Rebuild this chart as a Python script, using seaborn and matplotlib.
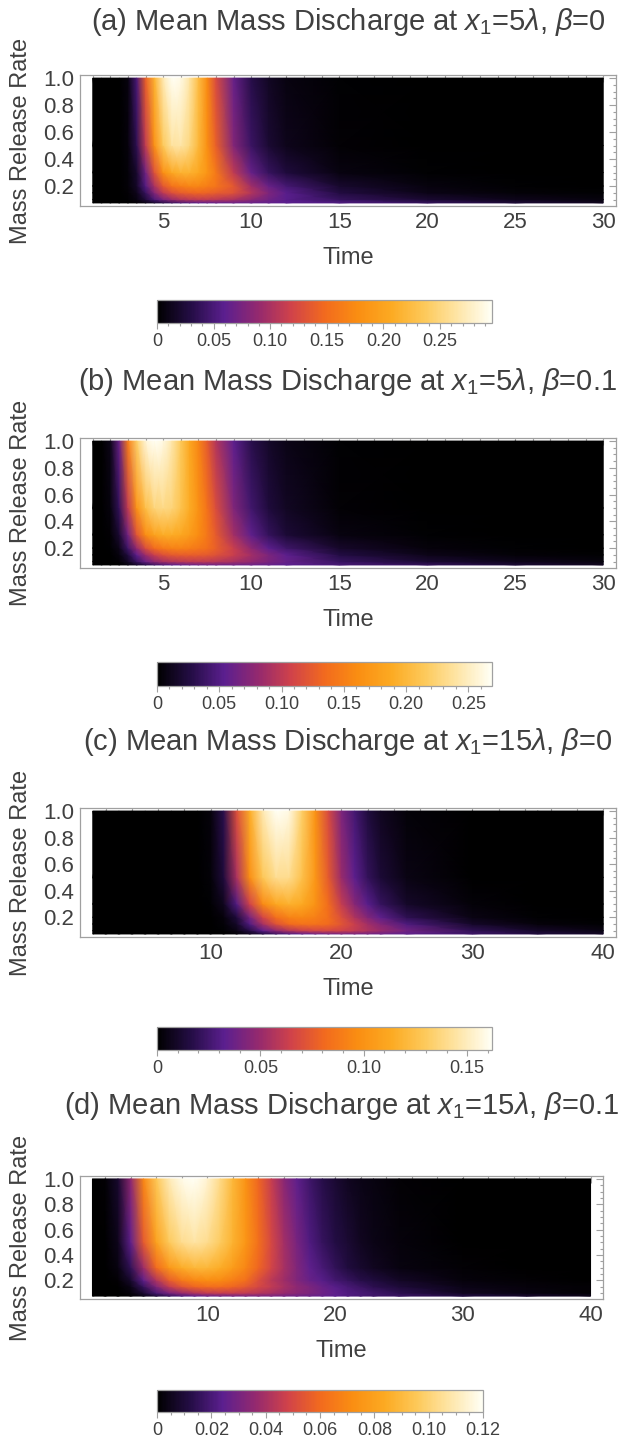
import matplotlib
matplotlib.use("Agg")
import numpy as np
import matplotlib.pyplot as plt
import seaborn as sns
from matplotlib.ticker import MultipleLocator, FuncFormatter

sns.set_style("white")
plt.rcParams["font.family"] = ["Liberation Sans", "DejaVu Sans"]
plt.rcParams["mathtext.fontset"] = "custom"
plt.rcParams["mathtext.rm"] = "Liberation Sans"
plt.rcParams["mathtext.it"] = "Liberation Sans:italic"

# mass release rate rows (bottom -> top), shared by all panels
rates = [0.075, 0.1, 0.15, 0.2, 0.3, 0.5, 1.0]

# time columns
times_ab = [1, 1.5, 2, 2.5, 3, 3.5, 4, 4.5, 5, 5.5, 6, 6.5, 7, 7.5, 8, 9, 10, 11, 12, 15, 20, 25, 30]
times_cd = [1, 2, 3, 4, 5, 6, 7, 8, 9, 10, 11, 12, 13, 14, 15, 16, 17, 18, 19, 20, 21, 22, 23, 25, 30, 35, 40]

# (a) x1 = 5 lambda, beta = 0
disch_a = [
    [0, 0, 0, 0, 0.001, 0.003, 0.008, 0.018, 0.03, 0.04, 0.048, 0.054, 0.058, 0.061, 0.063, 0.065, 0.065, 0.063, 0.06, 0.055, 0.04, 0.025, 0.014],
    [0, 0, 0, 0, 0.002, 0.008, 0.025, 0.05, 0.075, 0.092, 0.102, 0.108, 0.11, 0.11, 0.108, 0.1, 0.085, 0.07, 0.058, 0.04, 0.022, 0.012, 0.006],
    [0, 0, 0, 0, 0.003, 0.012, 0.04, 0.08, 0.11, 0.128, 0.138, 0.143, 0.145, 0.143, 0.138, 0.13, 0.105, 0.078, 0.058, 0.028, 0.01, 0.004, 0.002],
    [0, 0, 0, 0, 0.004, 0.018, 0.055, 0.1, 0.135, 0.155, 0.165, 0.17, 0.17, 0.165, 0.158, 0.135, 0.095, 0.066, 0.048, 0.02, 0.006, 0.002, 0.001],
    [0, 0, 0, 0, 0.004, 0.02, 0.07, 0.13, 0.18, 0.205, 0.215, 0.215, 0.205, 0.185, 0.16, 0.11, 0.065, 0.04, 0.026, 0.008, 0.002, 0.001, 0],
    [0, 0, 0, 0, 0.005, 0.035, 0.11, 0.18, 0.235, 0.262, 0.265, 0.25, 0.22, 0.18, 0.14, 0.08, 0.042, 0.022, 0.012, 0.003, 0, 0, 0],
    [0, 0, 0, 0, 0.006, 0.05, 0.14, 0.215, 0.27, 0.296, 0.29, 0.265, 0.225, 0.175, 0.125, 0.065, 0.032, 0.016, 0.008, 0.002, 0, 0, 0],
]

# (b) x1 = 5 lambda, beta = 0.1
disch_b = [
    [0, 0, 0, 0.001, 0.006, 0.015, 0.027, 0.038, 0.046, 0.052, 0.056, 0.059, 0.061, 0.062, 0.063, 0.063, 0.061, 0.058, 0.054, 0.045, 0.035, 0.022, 0.013],
    [0, 0, 0, 0.003, 0.014, 0.036, 0.06, 0.078, 0.089, 0.095, 0.098, 0.1, 0.1, 0.099, 0.097, 0.09, 0.08, 0.069, 0.059, 0.037, 0.02, 0.011, 0.006],
    [0, 0, 0.001, 0.006, 0.025, 0.055, 0.085, 0.105, 0.117, 0.123, 0.126, 0.127, 0.126, 0.123, 0.118, 0.105, 0.088, 0.07, 0.055, 0.027, 0.01, 0.004, 0.002],
    [0, 0, 0.002, 0.01, 0.04, 0.08, 0.115, 0.135, 0.147, 0.152, 0.153, 0.15, 0.145, 0.138, 0.128, 0.105, 0.078, 0.055, 0.04, 0.017, 0.005, 0.002, 0.001],
    [0, 0, 0.003, 0.02, 0.065, 0.12, 0.16, 0.18, 0.19, 0.19, 0.185, 0.175, 0.16, 0.145, 0.125, 0.088, 0.056, 0.035, 0.022, 0.007, 0.002, 0, 0],
    [0, 0, 0.006, 0.035, 0.1, 0.165, 0.205, 0.225, 0.23, 0.225, 0.21, 0.19, 0.165, 0.14, 0.115, 0.072, 0.042, 0.024, 0.014, 0.003, 0, 0, 0],
    [0, 0.001, 0.01, 0.06, 0.15, 0.22, 0.258, 0.269, 0.262, 0.242, 0.215, 0.185, 0.155, 0.125, 0.095, 0.055, 0.03, 0.016, 0.009, 0.002, 0, 0, 0],
]

# (c) x1 = 15 lambda, beta = 0
disch_c = [
    [0, 0, 0, 0, 0, 0, 0, 0, 0, 0, 0, 0.002, 0.007, 0.015, 0.023, 0.029, 0.034, 0.037, 0.039, 0.04, 0.04, 0.039, 0.037, 0.034, 0.024, 0.015, 0.009],
    [0, 0, 0, 0, 0, 0, 0, 0, 0, 0, 0.001, 0.005, 0.017, 0.033, 0.047, 0.057, 0.063, 0.066, 0.067, 0.065, 0.061, 0.056, 0.05, 0.039, 0.02, 0.01, 0.005],
    [0, 0, 0, 0, 0, 0, 0, 0, 0, 0, 0.002, 0.01, 0.03, 0.054, 0.071, 0.081, 0.085, 0.085, 0.081, 0.073, 0.063, 0.053, 0.044, 0.029, 0.01, 0.003, 0.001],
    [0, 0, 0, 0, 0, 0, 0, 0, 0, 0, 0.003, 0.014, 0.04, 0.066, 0.083, 0.092, 0.094, 0.091, 0.083, 0.07, 0.056, 0.044, 0.034, 0.019, 0.005, 0.001, 0],
    [0, 0, 0, 0, 0, 0, 0, 0, 0, 0.001, 0.007, 0.03, 0.065, 0.095, 0.112, 0.117, 0.113, 0.1, 0.082, 0.062, 0.045, 0.032, 0.022, 0.01, 0.002, 0, 0],
    [0, 0, 0, 0, 0, 0, 0, 0, 0, 0.002, 0.014, 0.055, 0.098, 0.128, 0.141, 0.14, 0.125, 0.102, 0.075, 0.05, 0.033, 0.021, 0.013, 0.005, 0.0005, 0, 0],
    [0, 0, 0, 0, 0, 0, 0, 0, 0, 0.003, 0.018, 0.07, 0.115, 0.148, 0.162, 0.158, 0.132, 0.1, 0.068, 0.042, 0.026, 0.015, 0.008, 0.002, 0, 0, 0],
]

# (d) x1 = 15 lambda, beta = 0.1
disch_d = [
    [0, 0, 0, 0.001, 0.004, 0.01, 0.016, 0.021, 0.025, 0.027, 0.028, 0.029, 0.03, 0.03, 0.03, 0.029, 0.028, 0.027, 0.026, 0.024, 0.022, 0.02, 0.018, 0.017, 0.012, 0.008, 0.005],
    [0, 0, 0, 0.002, 0.009, 0.02, 0.03, 0.037, 0.042, 0.045, 0.046, 0.046, 0.045, 0.043, 0.04, 0.037, 0.034, 0.031, 0.028, 0.025, 0.022, 0.02, 0.018, 0.014, 0.006, 0.003, 0.001],
    [0, 0, 0, 0.004, 0.016, 0.032, 0.045, 0.054, 0.059, 0.061, 0.061, 0.059, 0.055, 0.05, 0.045, 0.04, 0.035, 0.031, 0.027, 0.023, 0.02, 0.017, 0.014, 0.01, 0.004, 0.002, 0.001],
    [0, 0, 0.001, 0.008, 0.025, 0.042, 0.056, 0.065, 0.07, 0.072, 0.071, 0.067, 0.062, 0.052, 0.044, 0.038, 0.032, 0.027, 0.023, 0.019, 0.016, 0.013, 0.011, 0.007, 0.002, 0.001, 0],
    [0, 0, 0.003, 0.015, 0.038, 0.06, 0.076, 0.085, 0.089, 0.089, 0.085, 0.078, 0.069, 0.059, 0.049, 0.04, 0.032, 0.025, 0.02, 0.015, 0.011, 0.008, 0.006, 0.003, 0.001, 0, 0],
    [0, 0, 0.005, 0.025, 0.055, 0.08, 0.096, 0.104, 0.107, 0.104, 0.097, 0.087, 0.075, 0.062, 0.05, 0.039, 0.03, 0.022, 0.016, 0.012, 0.009, 0.006, 0.004, 0.002, 0, 0, 0],
    [0, 0.001, 0.008, 0.035, 0.07, 0.095, 0.11, 0.118, 0.12, 0.114, 0.103, 0.089, 0.074, 0.059, 0.046, 0.034, 0.025, 0.018, 0.013, 0.009, 0.006, 0.004, 0.003, 0.001, 0, 0, 0],
]

titles = [
    r"(a) Mean Mass Discharge at $x_1$=5$\lambda$, $\beta$=0",
    r"(b) Mean Mass Discharge at $x_1$=5$\lambda$, $\beta$=0.1",
    r"(c) Mean Mass Discharge at $x_1$=15$\lambda$, $\beta$=0",
    r"(d) Mean Mass Discharge at $x_1$=15$\lambda$, $\beta$=0.1",
]
color_max = [0.296, 0.269, 0.162, 0.12]
cbar_major = [0.05, 0.05, 0.05, 0.02]
cbar_minor = [0.01, 0.01, 0.01, 0.005]

# Mathematica "SunsetColors"-like gradient
sunset = sns.blend_palette(
    ["#000000", "#240d45", "#5b1f8f", "#93296f", "#d0424a", "#f26a1e",
     "#fa8e12", "#fcaa22", "#fdc95a", "#fee6a8", "#fffff5"], as_cmap=True)

W, H = 621, 1441
fig = plt.figure(figsize=(W / 100, H / 100), dpi=100)


def box(x0, y0, x1, y1):
    # pixel box (top-left origin) -> figure fraction rect
    return [x0 / W, 1 - y1 / H, (x1 - x0) / W, (y1 - y0) / H]


# pixel layout: title y, frame (x0, y0, x1, y1), colorbar (x0, y0, x1, y1)
layout = [
    (22, (80, 75, 616, 206), (157, 300, 492, 323)),
    (382, (80, 438, 616, 568), (157, 662, 492, 686)),
    (742, (80, 808, 616, 937), (157, 1027, 492, 1050)),
    (1106, (80, 1176, 603, 1299), (157, 1390, 483, 1412)),
]
panels = [(times_ab, disch_a), (times_ab, disch_b), (times_cd, disch_c), (times_cd, disch_d)]

frame_col = "#a0a0a0"
text_col = "#404040"

for i, ((times, vals), (ty, fr, cbx)) in enumerate(zip(panels, layout)):
    ax = fig.add_axes(box(*fr))
    T, R = np.meshgrid(times, rates)
    mesh = ax.pcolormesh(T, R, np.array(vals), shading="gouraud", cmap=sunset,
                         vmin=0, vmax=color_max[i])
    t0, t1 = times[0], times[-1]
    pad = 0.025 * (t1 - t0)
    ax.set_xlim(t0 - pad, t1 + pad)
    ax.set_ylim(0.052, 1.023)
    if i < 2:
        ax.set_xticks([5, 10, 15, 20, 25, 30])
        ax.xaxis.set_minor_locator(MultipleLocator(1))
    else:
        ax.set_xticks([10, 20, 30, 40])
        ax.xaxis.set_minor_locator(MultipleLocator(2))
    ax.set_yticks([0.2, 0.4, 0.6, 0.8, 1.0])
    ax.yaxis.set_minor_locator(MultipleLocator(0.05))
    ax.yaxis.set_major_formatter(FuncFormatter(lambda v, p: f"{v:.1f}"))
    ax.tick_params(which="both", direction="in", top=True, right=True,
                   color=frame_col, labelcolor=text_col, labelsize=16, width=0.8)
    ax.tick_params(which="major", length=5, pad=4)
    ax.tick_params(which="minor", length=2.5)
    for s in ax.spines.values():
        s.set_color(frame_col)
        s.set_linewidth(0.9)
    ax.set_facecolor("white")
    hpx = fr[3] - fr[1]
    wpx = fr[2] - fr[0]
    ax.set_xlabel("Time", fontsize=17, color=text_col)
    ax.xaxis.set_label_coords(0.5, -41 / hpx)
    ax.set_ylabel("Mass Release Rate", fontsize=17, color=text_col)
    ax.yaxis.set_label_coords(-48 / wpx, 0.5)

    fig.text((fr[0] + fr[2]) / 2 / W, 1 - ty / H, titles[i], ha="center", va="center",
             fontsize=21, color=text_col)

    cax = fig.add_axes(box(*cbx))
    cb = fig.colorbar(mesh, cax=cax, orientation="horizontal")
    cb.set_ticks(np.arange(0, color_max[i] + 1e-9, cbar_major[i]))
    cb.ax.xaxis.set_minor_locator(MultipleLocator(cbar_minor[i]))
    cb.ax.xaxis.set_major_formatter(FuncFormatter(lambda v, p: "0" if abs(v) < 1e-9 else f"{v:.2f}"))
    cb.ax.tick_params(which="both", direction="out", color=frame_col,
                      labelcolor=text_col, labelsize=13, width=0.8)
    cb.ax.tick_params(which="major", length=4, pad=3)
    cb.ax.tick_params(which="minor", length=2.5)
    cb.outline.set_edgecolor(frame_col)
    cb.outline.set_linewidth(0.9)

fig.savefig("out.png", dpi=100)
